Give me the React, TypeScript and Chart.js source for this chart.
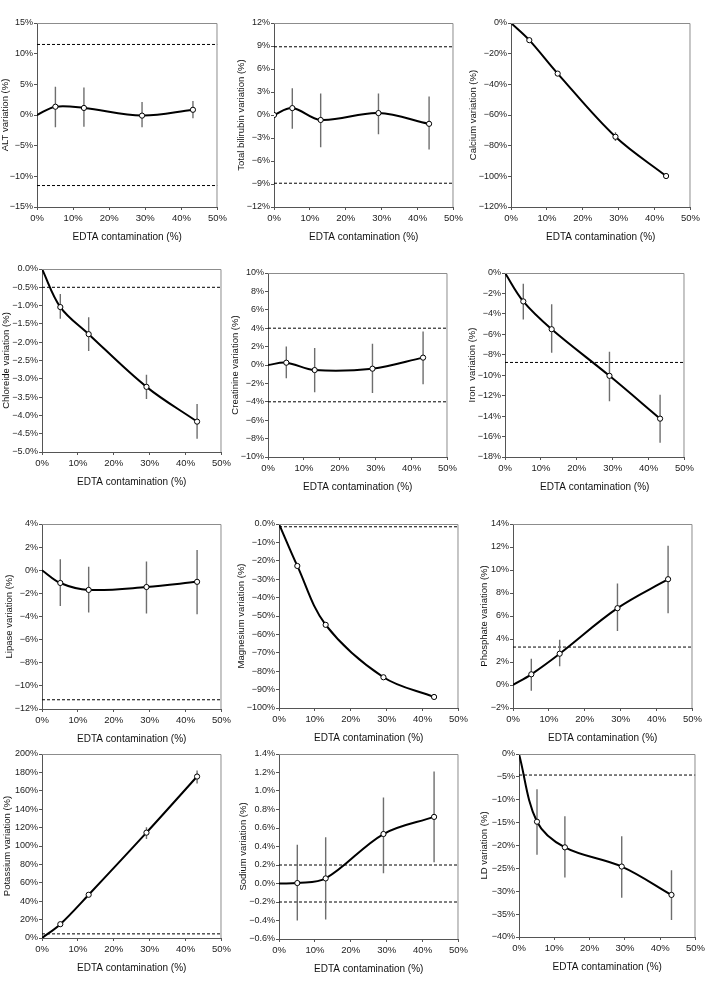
import React, { useEffect, useRef } from "react";
import { Chart, registerables } from "chart.js";
Chart.register(...registerables);

const TICK_FONT = "'Liberation Sans', Arial, sans-serif";
const TITLE_FONT = "'Liberation Sans', Arial, sans-serif";
const TICK_SIZE = 9;

// ---------- data ----------
const edtaContamination = [0, 5.1, 13.0, 29.1, 43.2];
const xTickValues = [0, 10, 20, 30, 40, 50];
const xAxisTitle = "EDTA contamination (%)";

const altValues = [0, 1.35, 1.15, -0.1, 0.85];
const altLow = [null, -2.0, -1.9, -2.0, -0.55];
const altHigh = [null, 4.6, 4.5, 2.1, 2.3];
const altLimits = [11.5, -11.5];

const bilirubinValues = [0, 0.9, -0.65, 0.25, -1.15];
const bilirubinLow = [null, -1.8, -4.2, -2.5, -4.5];
const bilirubinHigh = [null, 3.5, 2.8, 2.8, 2.4];
const bilirubinLimits = [8.9, -8.9];

const calciumValues = [0, -11.2, -33.0, -74.2, -99.8];
const calciumLow = [null, -12.3, -34.3, -77.0, -100.8];
const calciumHigh = [null, -10.1, -31.7, -71.2, -98.8];
const calciumLimits = [0];

const chlorideValues = [0, -1.04, -1.78, -3.22, -4.17];
const chlorideLow = [null, -1.36, -2.24, -3.55, -4.64];
const chlorideHigh = [null, -0.68, -1.32, -2.89, -3.69];
const chlorideLimits = [-0.5];

const creatinineValues = [0, 0.25, -0.55, -0.4, 0.8];
const creatinineLow = [null, -1.45, -2.95, -3.05, -2.1];
const creatinineHigh = [null, 2.0, 1.85, 2.3, 3.65];
const creatinineLimits = [4, -4];

const ironValues = [0, -2.78, -5.5, -10.06, -14.25];
const ironLow = [null, -4.55, -7.8, -12.55, -16.6];
const ironHigh = [null, -1.05, -3.05, -7.7, -11.9];
const ironLimits = [-8.75];

const lipaseValues = [0, -1.1, -1.7, -1.45, -1.0];
const lipaseLow = [null, -3.1, -3.65, -3.75, -3.8];
const lipaseHigh = [null, 0.95, 0.3, 0.75, 1.75];
const lipaseLimits = [-11.2];

const magnesiumValues = [0, -22.8, -54.8, -83.3, -94.0];
const magnesiumLow = [null, -24.0, -56.3, -84.3, -94.8];
const magnesiumHigh = [null, -21.6, -53.3, -82.3, -93.2];
const magnesiumLimits = [-1.5];

const phosphateValues = [0, 0.93, 2.72, 6.68, 9.2];
const phosphateLow = [null, -0.5, 1.62, 4.69, 6.25];
const phosphateHigh = [null, 2.29, 3.94, 8.83, 12.1];
const phosphateLimits = [3.3];

const potassiumValues = [0, 15, 47, 114.5, 175.5];
const potassiumLow = [null, 12.5, 44.5, 107.5, 168];
const potassiumHigh = [null, 17.5, 49.5, 120.5, 182];
const potassiumLimits = [4.5];

const sodiumValues = [0, 0.005, 0.055, 0.535, 0.72];
const sodiumLow = [null, -0.4, -0.39, 0.11, 0.23];
const sodiumHigh = [null, 0.42, 0.5, 0.93, 1.21];
const sodiumLimits = [0.2, -0.2];

const ldValues = [0, -14.8, -20.4, -24.6, -30.8];
const ldLow = [null, -22.0, -27.0, -31.4, -36.3];
const ldHigh = [null, -7.7, -13.6, -18.0, -25.4];
const ldLimits = [-4.6];

type PanelDef = {
  title: string;
  values: number[];
  low: (number | null)[];
  high: (number | null)[];
  limits: number[];
  yMin: number;
  yMax: number;
  yStep: number;
  decimals: number;
  zeroMarker?: boolean;
  zeroLabel?: string;
};

const panels: PanelDef[] = [
  { title: "ALT variation (%)", values: altValues, low: altLow, high: altHigh, limits: altLimits, yMin: -15, yMax: 15, yStep: 5, decimals: 0 },
  { title: "Total bilirubin variation (%)", values: bilirubinValues, low: bilirubinLow, high: bilirubinHigh, limits: bilirubinLimits, yMin: -12, yMax: 12, yStep: 3, decimals: 0, zeroMarker: true },
  { title: "Calcium variation (%)", values: calciumValues, low: calciumLow, high: calciumHigh, limits: calciumLimits, yMin: -120, yMax: 0, yStep: 20, decimals: 0 },
  { title: "Chloreide variation (%)", values: chlorideValues, low: chlorideLow, high: chlorideHigh, limits: chlorideLimits, yMin: -5, yMax: 0, yStep: 0.5, decimals: 1 },
  { title: "Creatinine variation (%)", values: creatinineValues, low: creatinineLow, high: creatinineHigh, limits: creatinineLimits, yMin: -10, yMax: 10, yStep: 2, decimals: 0 },
  { title: "Iron  variation (%)", values: ironValues, low: ironLow, high: ironHigh, limits: ironLimits, yMin: -18, yMax: 0, yStep: 2, decimals: 0 },
  { title: "Lipase variation (%)", values: lipaseValues, low: lipaseLow, high: lipaseHigh, limits: lipaseLimits, yMin: -12, yMax: 4, yStep: 2, decimals: 0 },
  { title: "Magnesium variation (%)", values: magnesiumValues, low: magnesiumLow, high: magnesiumHigh, limits: magnesiumLimits, yMin: -100, yMax: 0, yStep: 10, decimals: 0, zeroLabel: "0.0%" },
  { title: "Phosphate variation (%)", values: phosphateValues, low: phosphateLow, high: phosphateHigh, limits: phosphateLimits, yMin: -2, yMax: 14, yStep: 2, decimals: 0 },
  { title: "Potassium variation (%)", values: potassiumValues, low: potassiumLow, high: potassiumHigh, limits: potassiumLimits, yMin: 0, yMax: 200, yStep: 20, decimals: 0 },
  { title: "Sodium variation (%)", values: sodiumValues, low: sodiumLow, high: sodiumHigh, limits: sodiumLimits, yMin: -0.6, yMax: 1.4, yStep: 0.2, decimals: 1 },
  { title: "LD variation (%)", values: ldValues, low: ldLow, high: ldHigh, limits: ldLimits, yMin: -40, yMax: 0, yStep: 5, decimals: 0 },
];

// ---------- layout (plot area boxes on the page) ----------
const boxes = [
  { L: 37, T: 23, R: 218, B: 207, titleX: 8 },
  { L: 274, T: 23, R: 454, B: 207, titleX: 244 },
  { L: 511, T: 23, R: 691, B: 207, titleX: 479 },
  { L: 42, T: 269, R: 222, B: 452, titleX: 7 },
  { L: 268, T: 273, R: 448, B: 457, titleX: 240 },
  { L: 505, T: 273, R: 685, B: 457, titleX: 473 },
  { L: 42, T: 524, R: 222, B: 709, titleX: 10 },
  { L: 279, T: 524, R: 459, B: 708, titleX: 243 },
  { L: 513, T: 524, R: 693, B: 708, titleX: 484 },
  { L: 42, T: 754, R: 222, B: 938, titleX: 7 },
  { L: 279, T: 754, R: 459, B: 939, titleX: 246 },
  { L: 519, T: 754, R: 699, B: 937, titleX: 484 },
];

const framePlugin = {
  id: "frame",
  afterDraw(chart: any) {
    const { ctx, chartArea } = chart;
    const { left, top, right, bottom } = chartArea;
    ctx.save();
    ctx.strokeStyle = "#8c8c8c";
    ctx.lineWidth = 1;
    ctx.beginPath();
    ctx.moveTo(left, top + 0.5);
    ctx.lineTo(right - 0.5, top + 0.5);
    ctx.lineTo(right - 0.5, bottom);
    ctx.stroke();
    ctx.restore();
  },
};

const fmt = (v: number, d: number) => {
  const s = Number(v).toFixed(d);
  return (s.startsWith("-") ? "\u2212" + s.slice(1) : s) + "%";
};

const tickLabel = (p: PanelDef, v: number) =>
  p.zeroLabel && Math.abs(v) < 1e-9 ? p.zeroLabel : fmt(v, p.decimals);

function measureWidest(p: PanelDef): number {
  const c = document.createElement("canvas");
  const ctx = c.getContext("2d") as CanvasRenderingContext2D;
  ctx.font = `${TICK_SIZE}px ${TICK_FONT}`;
  let w = 0;
  const n = Math.round((p.yMax - p.yMin) / p.yStep);
  for (let i = 0; i <= n; i++) {
    const v = p.yMin + i * p.yStep;
    w = Math.max(w, ctx.measureText(tickLabel(p, v)).width);
  }
  return w;
}

const Y_TITLE_SIZE = 9.5;
const Y_TITLE_LH = Y_TITLE_SIZE * 1.2;
const TICK_LEN = 3;
const TICK_PAD = 1;

function Panel({ p, box }: { p: PanelDef; box: any }) {
  const ref = useRef<HTMLCanvasElement>(null);
  const padTop = 12;
  const padRight = Math.min(12, 708 - box.R);
  const xAxisH = 36;
  const widest = measureWidest(p);
  const fitX = box.L - TICK_LEN - TICK_PAD - widest - 1 - Y_TITLE_SIZE / 2;
  const titleX = Math.max(5.5, Math.min(box.titleX, fitX));
  const canvasLeft = Math.floor(titleX - Y_TITLE_LH / 2);
  const titlePad = titleX - canvasLeft - Y_TITLE_LH / 2;
  const yAxisW = box.L - canvasLeft;
  const width = box.R - canvasLeft + padRight;
  const height = box.B - box.T + padTop + xAxisH;

  useEffect(() => {
    const datasets: any[] = [];
    datasets.push({
      data: edtaContamination.map((x, i) => ({ x, y: p.values[i] })),
      borderColor: "#000",
      borderWidth: 2,
      tension: 0.35,
      pointRadius: edtaContamination.map((_, i) => (i === 0 && !p.zeroMarker ? 0 : 2.6)),
      pointBackgroundColor: "#fff",
      pointBorderColor: "#000",
      pointBorderWidth: 1,
    });
    edtaContamination.forEach((x, i) => {
      const lo = p.low[i];
      const hi = p.high[i];
      if (lo == null || hi == null) return;
      datasets.push({
        data: [{ x, y: lo }, { x, y: hi }],
        borderColor: "#6e6e6e",
        borderWidth: 1.4,
        pointRadius: 0,
        tension: 0,
      });
    });
    p.limits.forEach((v) => {
      datasets.push({
        data: [{ x: 0, y: v }, { x: 50, y: v }],
        borderColor: "#000",
        borderWidth: 1,
        borderDash: [3, 2],
        pointRadius: 0,
        tension: 0,
      });
    });

    const chart = new Chart(ref.current as HTMLCanvasElement, {
      type: "line",
      data: { datasets },
      plugins: [framePlugin],
      options: {
        animation: false,
        responsive: false,
        devicePixelRatio: 1,
        layout: { padding: { top: padTop, right: padRight, left: 0, bottom: 0 } },
        plugins: { legend: { display: false }, tooltip: { enabled: false } },
        scales: {
          x: {
            type: "linear",
            min: 0,
            max: 50,
            afterFit: (s: any) => { s.height = xAxisH; },
            afterBuildTicks: (s: any) => { s.ticks = xTickValues.map((v) => ({ value: v })); },
            ticks: {
              callback: (v: any) => v + "%",
              font: { family: TICK_FONT, size: 9.5 },
              color: "#222",
              maxRotation: 0,
              autoSkip: false,
              padding: 3,
            },
            grid: { display: true, drawOnChartArea: false, drawTicks: true, tickLength: TICK_LEN, color: "#555" },
            border: { display: true, color: "#555" },
            title: { display: true, text: xAxisTitle, font: { family: TITLE_FONT, size: 10 }, color: "#111", padding: 0 },
          },
          y: {
            type: "linear",
            min: p.yMin,
            max: p.yMax,
            afterFit: (s: any) => { s.width = yAxisW; },
            ticks: {
              stepSize: p.yStep,
              callback: (v: any) => tickLabel(p, v),
              font: { family: TICK_FONT, size: TICK_SIZE },
              color: "#222",
              padding: TICK_PAD,
              autoSkip: false,
            },
            grid: { display: true, drawOnChartArea: false, drawTicks: true, tickLength: TICK_LEN, color: "#555" },
            border: { display: true, color: "#555" },
            title: {
              display: true,
              text: p.title,
              font: { family: TITLE_FONT, size: Y_TITLE_SIZE },
              color: "#111",
              padding: { top: titlePad, bottom: 0 },
            },
          },
        },
      } as any,
    });
    return () => chart.destroy();
  }, []);

  return (
    <canvas
      ref={ref}
      width={width}
      height={height}
      style={{ position: "absolute", left: canvasLeft, top: box.T - padTop, width, height, display: "block" }}
    />
  );
}

export default function App() {
  return (
    <div style={{ position: "absolute", left: 0, top: 0, width: 708, height: 983, background: "#fff", overflow: "hidden" }}>
      {panels.map((p, i) => (
        <Panel key={i} p={p} box={boxes[i]} />
      ))}
    </div>
  );
}
